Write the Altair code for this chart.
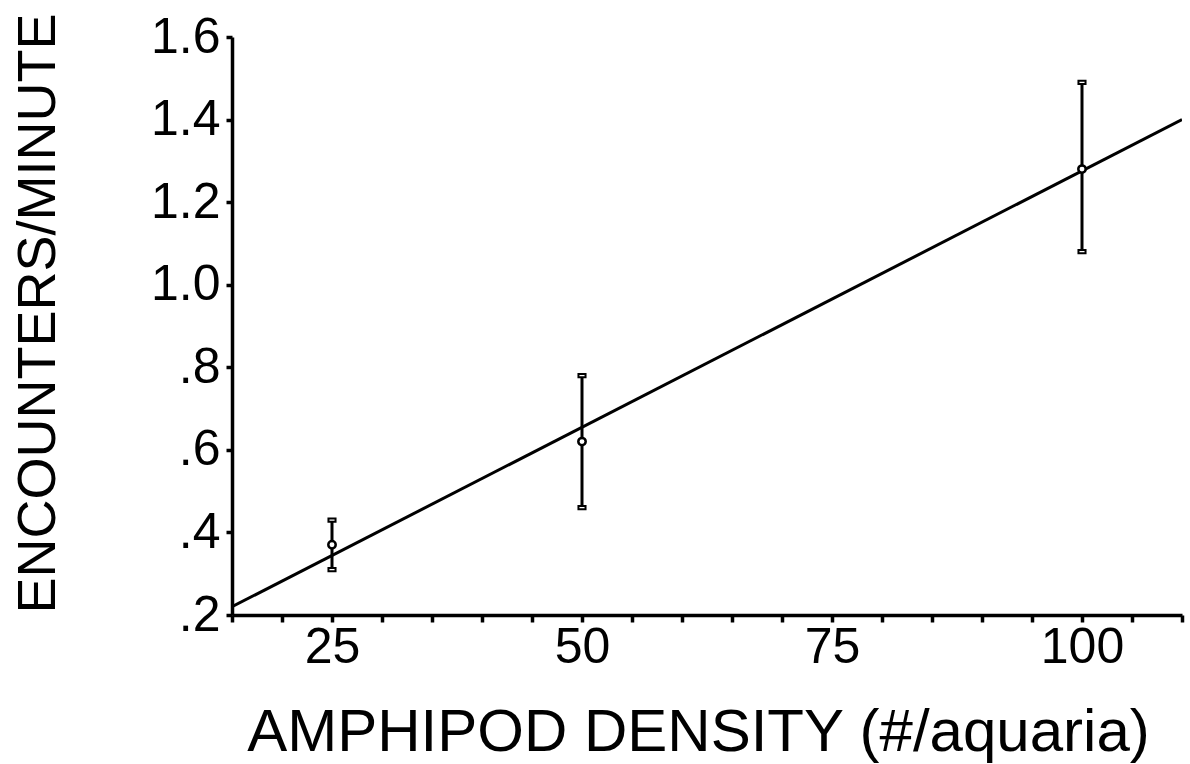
import altair as alt
import pandas as pd

# Data
density = [25, 50, 100]
mean_enc = [0.37, 0.62, 1.28]
upper_enc = [0.43, 0.78, 1.49]
lower_enc = [0.31, 0.46, 1.08]

fit_x = [15, 110]
fit_y = [0.22, 1.40]

x_ticks = [15, 20, 25, 30, 35, 40, 45, 50, 55, 60, 65, 70, 75, 80, 85, 90, 95, 100, 105, 110]
y_ticks = [0.2, 0.4, 0.6, 0.8, 1.0, 1.2, 1.4, 1.6]

pts = pd.DataFrame({"d": density, "m": mean_enc, "hi": upper_enc, "lo": lower_enc})
fit = pd.DataFrame({"d": fit_x, "m": fit_y})

FONT = "Liberation Sans"
LABEL_FONT = "Liberation Sans Narrow, Liberation Sans"

xscale = alt.Scale(domain=[15, 110], nice=False, zero=False)
yscale = alt.Scale(domain=[0.2, 1.6], nice=False, zero=False)

xaxis = alt.Axis(
    title="AMPHIPOD DENSITY (#/aquaria)",
    values=x_ticks,
    labelExpr="indexof(['25','50','75','100'], toString(datum.value)) >= 0 ? toString(datum.value) : ''",
    tickSize=7, labelPadding=40, labelBaseline="alphabetic",
    titleFontSize=60,
    titleX=466, titleY=135, titleBaseline="alphabetic", titleAlign="center",
)
yaxis = alt.Axis(
    title="ENCOUNTERS/MINUTE",
    values=y_ticks,
    labelExpr="datum.value < 1 ? replace(format(datum.value, '.1f'), '0.', '.') : format(datum.value, '.1f')",
    tickSize=6, labelPadding=6,
    titleFontSize=54,
    titleX=-194, titleY=276, titleAngle=-90, titleBaseline="middle", titleAlign="center",
)

base = alt.Chart(pts)

line = alt.Chart(fit).mark_line(color="black", strokeWidth=3, clip=True).encode(
    x=alt.X("d:Q", scale=xscale, axis=xaxis),
    y=alt.Y("m:Q", scale=yscale, axis=yaxis),
)

bars = base.mark_rule(color="black", strokeWidth=3).encode(
    x=alt.X("d:Q", scale=xscale, axis=xaxis),
    y=alt.Y("lo:Q", scale=yscale, axis=yaxis),
    y2="hi:Q",
)

cap_shape = "M-1,-0.45H1V0.45H-1Z"
cap_hi = base.mark_point(shape=cap_shape, filled=True, fill="white", stroke="black", strokeWidth=2, size=50, opacity=1).encode(
    x=alt.X("d:Q", scale=xscale, axis=xaxis), y=alt.Y("hi:Q", scale=yscale, axis=yaxis)
)
cap_lo = base.mark_point(shape=cap_shape, filled=True, fill="white", stroke="black", strokeWidth=2, size=50, opacity=1).encode(
    x=alt.X("d:Q", scale=xscale, axis=xaxis), y=alt.Y("lo:Q", scale=yscale, axis=yaxis)
)
dots = base.mark_point(shape="circle", filled=True, fill="white", stroke="black", strokeWidth=2.5, size=55, opacity=1).encode(
    x=alt.X("d:Q", scale=xscale, axis=xaxis), y=alt.Y("m:Q", scale=yscale, axis=yaxis)
)

chart = alt.layer(line, bars, cap_hi, cap_lo, dots).properties(
    width=950, height=578,
    autosize=alt.AutoSizeParams(type="none"),
    padding={"left": 232, "top": 37, "right": 8, "bottom": 149},
    background="white",
).configure_view(stroke=None).configure_axis(
    grid=False, domainColor="black", domainWidth=3.5,
    tickColor="black", tickWidth=3.5,
    labelFont=LABEL_FONT, labelFontSize=50, labelColor="black",
    labelFlush=False, labelOverlap=False,
    titleFont=FONT, titleFontWeight="normal", titleColor="black",
)

chart.save("out.html", embed_options={"renderer": "svg", "actions": False})
